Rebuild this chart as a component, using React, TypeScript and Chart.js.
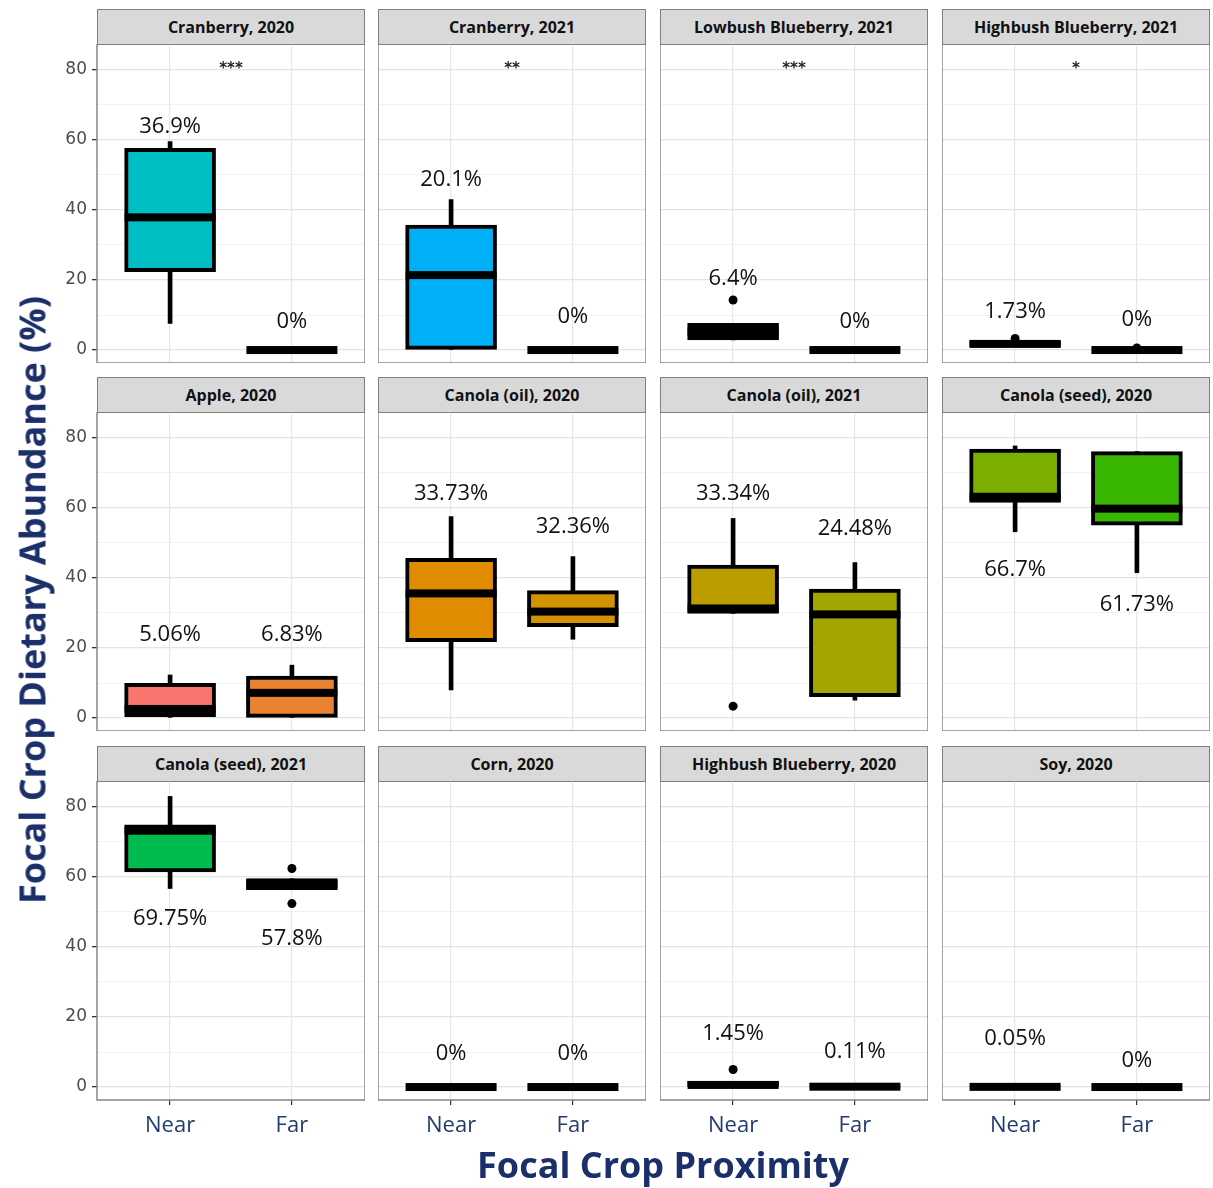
import React, { useEffect, useRef } from 'react';
import { Chart, registerables } from 'chart.js';
Chart.register(...registerables);

// ---------- DATA ----------
const categories = ['Near', 'Far'];
const panelTitles = [
  'Cranberry, 2020', 'Cranberry, 2021', 'Lowbush Blueberry, 2021', 'Highbush Blueberry, 2021',
  'Apple, 2020', 'Canola (oil), 2020', 'Canola (oil), 2021', 'Canola (seed), 2020',
  'Canola (seed), 2021', 'Corn, 2020', 'Highbush Blueberry, 2020', 'Soy, 2020',
];
const significance = ['***', '**', '***', '*', '', '', '', '', '', '', '', ''];
const significanceY = 81.5;
const yTickValues = [0, 10, 20, 30, 40, 50, 60, 70, 80];

// each entry: [Near, Far]
const whiskerLow = [[7.6, 0], [0.2, 0], [2.9, 0], [0.9, 0], [0, 0], [8.0, 22.5], [29.9, 5.1], [53.2, 41.5], [56.7, 56.4], [0, 0], [0, 0], [0, 0]];
const boxQ1 = [[22.4, 0], [0.2, 0], [2.9, 0], [0.9, 0], [0.4, 0], [21.8, 26.1], [29.9, 6.1], [61.6, 55.1], [61.4, 56.4], [0, 0], [0, 0], [0, 0]];
const boxMedian = [[37.9, 0], [21.4, 0], [5.25, 0], [1.75, 0], [2.6, 7.2], [35.6, 30.4], [31.3, 29.6], [63.2, 59.8], [73.2, 58.0], [0, 0], [0.6, 0.1], [0.05, 0]];
const boxQ3 = [[57.6, 0], [35.7, 0], [7.6, 0], [2.6, 0], [9.9, 12.0], [45.6, 36.4], [43.7, 36.8], [76.8, 76.1], [74.9, 59.5], [0, 0], [1.6, 0.3], [0.3, 0]];
const whiskerHigh = [[59.5, 0], [43.0, 0], [7.6, 0], [2.6, 0], [12.3, 15.1], [57.5, 46.1], [57.0, 44.4], [77.7, 76.1], [83.0, 59.5], [0, 0], [1.6, 0.3], [0.3, 0]];
const outliers = [
  [[], []], [[], []], [[14.3], []], [[3.3], [0.6]],
  [[], []], [[], []], [[3.4], []], [[], []],
  [[], [62.4, 52.4]], [[], []], [[5.0], []], [[], []],
];
const meanLabels = [
  ['36.9%', '0%'], ['20.1%', '0%'], ['6.4%', '0%'], ['1.73%', '0%'],
  ['5.06%', '6.83%'], ['33.73%', '32.36%'], ['33.34%', '24.48%'], ['66.7%', '61.73%'],
  ['69.75%', '57.8%'], ['0%', '0%'], ['1.45%', '0.11%'], ['0.05%', '0%'],
];
const meanLabelY = [
  [63.8, 8.1], [48.6, 9.5], [20.5, 8.1], [10.9, 8.6],
  [23.7, 23.7], [64.2, 54.7], [64.2, 54.2], [42.3, 32.3],
  [48.1, 42.4], [9.6, 9.6], [15.1, 10.1], [13.7, 7.6],
];
const boxColors = [
  ['#00BFC4', '#00BCD8'], ['#00B0F6', '#35A2FF'], ['#000000', '#000000'], ['#000000', '#000000'],
  ['#F8766D', '#EA8331'], ['#E08B00', '#D39200'], ['#BB9D00', '#A3A500'], ['#7CAE00', '#39B600'],
  ['#00BB4E', '#000000'], ['#000000', '#000000'], ['#000000', '#000000'], ['#000000', '#000000'],
];

// ---------- LAYOUT ----------
const colLeft = [97, 378, 660, 942];
const plotTop = [44, 412, 781];
const plotW = 268;
const plotH = 319;
const stripH = 36;
const yAxisW = 90;
const xAxisH = 50;
const boxWidth = 91;
const medianThickness = 8;
const navy = '#1b2f6b';

function makePlugin(p: number) {
  return {
    id: 'boxDeco' + p,
    afterDatasetsDraw(chart: any) {
      const { ctx, chartArea, scales } = chart;
      const x = scales.x;
      const y = scales.y;
      ctx.save();
      categories.forEach((_, k) => {
        const cx = x.getPixelForValue(k + 1);
        const my = y.getPixelForValue(boxMedian[p][k]);
        ctx.fillStyle = '#000';
        ctx.fillRect(cx - boxWidth / 2, my - medianThickness / 2, boxWidth, medianThickness);
      });
      ctx.font = '22px "Open Sans"';
      ctx.fillStyle = '#111';
      ctx.textAlign = 'center';
      ctx.textBaseline = 'middle';
      categories.forEach((_, k) => {
        const cx = x.getPixelForValue(k + 1);
        ctx.fillText(meanLabels[p][k], cx, y.getPixelForValue(meanLabelY[p][k]));
      });
      if (significance[p]) {
        ctx.font = 'bold 15px "DejaVu Sans"';
        ctx.fillStyle = '#222';
        ctx.fillText(significance[p], x.getPixelForValue(1.5), y.getPixelForValue(significanceY) + 4);
      }
      ctx.strokeStyle = '#7f7f7f';
      ctx.lineWidth = 1.4;
      ctx.strokeRect(chartArea.left, chartArea.top, chartArea.right - chartArea.left, chartArea.bottom - chartArea.top);
      ctx.restore();
    },
  };
}

function makeConfig(p: number, r: number, c: number): any {
  const bottomRow = r === 2;
  const firstCol = c === 0;
  const outlierPts: { x: number; y: number }[] = [];
  outliers[p].forEach((vals, k) => vals.forEach((v) => outlierPts.push({ x: k + 1, y: v })));
  return {
    type: 'bar',
    data: {
      datasets: [
        {
          type: 'scatter',
          data: outlierPts,
          pointRadius: 4.5,
          pointBackgroundColor: '#000',
          pointBorderWidth: 0,
          order: 0,
        },
        {
          type: 'bar',
          data: categories.map((_, k) => ({ x: k + 1, y: [boxQ1[p][k], boxQ3[p][k]] })),
          backgroundColor: boxColors[p],
          borderColor: '#000',
          borderWidth: 4,
          borderSkipped: false,
          barThickness: boxWidth,
          grouped: false,
          order: 1,
        },
        {
          type: 'bar',
          data: categories.map((_, k) => ({ x: k + 1, y: [whiskerLow[p][k], whiskerHigh[p][k]] })),
          backgroundColor: '#000',
          borderWidth: 0,
          barThickness: 4,
          grouped: false,
          order: 2,
        },
      ],
    },
    options: {
      responsive: false,
      maintainAspectRatio: false,
      animation: false,
      layout: { padding: 0, autoPadding: false },
      plugins: { legend: { display: false }, tooltip: { enabled: false } },
      scales: {
        x: {
          type: 'linear',
          offset: false,
          min: 0.4,
          max: 2.6,
          afterBuildTicks: (s: any) => { s.ticks = categories.map((_, k) => ({ value: k + 1 })); },
          afterFit: (s: any) => { s.height = bottomRow ? xAxisH : 0; s.paddingLeft = 0; s.paddingRight = 0; },
          grid: { offset: false, color: '#e6e6e6', lineWidth: 1.2, drawTicks: bottomRow, tickLength: 5, tickColor: '#333' },
          border: { display: false },
          ticks: {
            display: bottomRow,
            autoSkip: false,
            maxRotation: 0,
            padding: 8,
            color: '#253b6e',
            font: { family: 'Open Sans', size: 22 },
            callback: (v: number) => categories[Math.round(v) - 1] ?? '',
          },
        },
        y: {
          type: 'linear',
          min: -3.7,
          max: 87.4,
          afterBuildTicks: (s: any) => { s.ticks = yTickValues.map((v) => ({ value: v })); },
          afterFit: (s: any) => { s.width = firstCol ? yAxisW : 0; s.paddingTop = 0; s.paddingBottom = 0; },
          grid: {
            color: (ctx: any) => (ctx.tick && ctx.tick.value % 20 === 0 ? '#e3e3e3' : '#f0f0f0'),
            lineWidth: (ctx: any) => (ctx.tick && ctx.tick.value % 20 === 0 ? 1.3 : 0.9),
            drawTicks: firstCol,
            tickLength: 5,
            tickColor: (ctx: any) => (ctx.tick && ctx.tick.value % 20 === 0 ? '#333' : 'rgba(0,0,0,0)'),
          },
          border: { display: false },
          ticks: {
            display: firstCol,
            padding: 5,
            color: '#4d4d4d',
            font: { family: 'DejaVu Sans', size: 17 },
            callback: (v: number) => (v % 20 === 0 ? String(v) : ''),
          },
        },
      },
    },
    plugins: [makePlugin(p)],
  };
}

function Panel({ p }: { p: number }) {
  const ref = useRef<HTMLCanvasElement>(null);
  const r = Math.floor(p / 4);
  const c = p % 4;
  const left = colLeft[c] - (c === 0 ? yAxisW : 0);
  const w = plotW + (c === 0 ? yAxisW : 0);
  const h = plotH + (r === 2 ? xAxisH : 0);
  useEffect(() => {
    const chart = new Chart(ref.current as HTMLCanvasElement, makeConfig(p, r, c));
    return () => chart.destroy();
  }, []);
  return (
    <>
      <div
        style={{
          position: 'absolute',
          left: colLeft[c],
          top: plotTop[r] - stripH + 1,
          width: plotW,
          height: stripH,
          boxSizing: 'border-box',
          background: '#d9d9d9',
          border: '1.4px solid #7f7f7f',
          fontFamily: '"Open Sans", sans-serif',
          fontWeight: 700,
          fontSize: 16,
          color: '#111',
          display: 'flex',
          alignItems: 'center',
          justifyContent: 'center',
          whiteSpace: 'nowrap',
        }}
      >
        {panelTitles[p]}
      </div>
      <canvas
        ref={ref}
        width={w}
        height={h}
        style={{ position: 'absolute', left, top: plotTop[r], width: w, height: h }}
      />
    </>
  );
}

export default function App() {
  return (
    <div style={{ position: 'absolute', left: 0, top: 0, width: 1213, height: 1188, background: '#fff', overflow: 'hidden' }}>
      {panelTitles.map((_, p) => (
        <Panel key={p} p={p} />
      ))}
      <div
        style={{
          position: 'absolute',
          left: 32,
          top: 600,
          transform: 'translate(-50%, -50%) rotate(-90deg)',
          whiteSpace: 'nowrap',
          fontFamily: '"Open Sans", sans-serif',
          fontWeight: 700,
          fontSize: 36,
          color: navy,
        }}
      >
        Focal Crop Dietary Abundance (%)
      </div>
      <div
        style={{
          position: 'absolute',
          left: 663,
          top: 1164,
          transform: 'translate(-50%, -50%)',
          whiteSpace: 'nowrap',
          fontFamily: '"Open Sans", sans-serif',
          fontWeight: 700,
          fontSize: 36,
          color: navy,
        }}
      >
        Focal Crop Proximity
      </div>
    </div>
  );
}
